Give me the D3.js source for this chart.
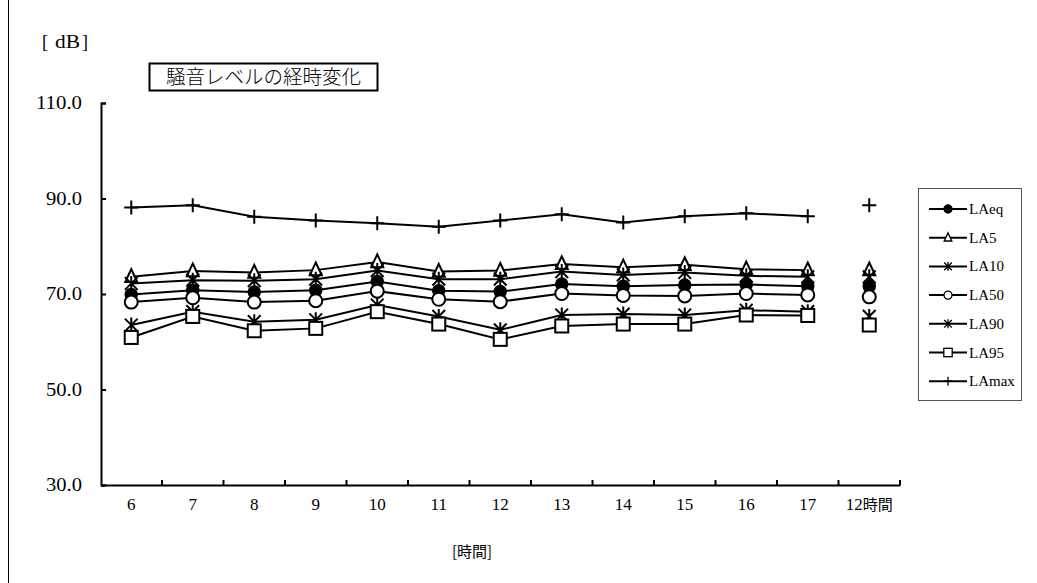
<!DOCTYPE html>
<html><head><meta charset="utf-8">
<script src="https://cdn.jsdelivr.net/npm/d3@7"></script>
<style>body{margin:0;background:#fff}svg{display:block}</style>
</head><body>
<svg id="c" width="1037" height="583"></svg>
<script>
const categories = ["6","7","8","9","10","11","12","13","14","15","16","17","12時間"];
const yTicks = [30, 50, 70, 90, 110];
const LAeq  = [69.9, 70.8, 70.4, 70.8, 72.6, 70.7, 70.5, 72.1, 71.6, 71.9, 72.0, 71.6, 71.6];
const LA5   = [73.6, 74.8, 74.5, 75.0, 76.7, 74.7, 74.9, 76.3, 75.6, 76.1, 75.2, 75.0, 75.0];
const LA10  = [72.2, 72.9, 72.8, 73.1, 74.9, 73.1, 73.1, 74.7, 74.0, 74.5, 73.8, 73.6, 73.6];
const LA50  = [68.3, 69.2, 68.3, 68.6, 70.6, 68.9, 68.4, 70.1, 69.7, 69.6, 70.1, 69.8, 69.4];
const LA90  = [63.5, 66.3, 64.2, 64.6, 67.7, 65.3, 62.5, 65.6, 65.8, 65.6, 66.6, 66.3, 65.3];
const LA95  = [60.9, 65.3, 62.3, 62.8, 66.3, 63.7, 60.5, 63.3, 63.7, 63.7, 65.6, 65.5, 63.5];
const LAmax = [88.1, 88.6, 86.2, 85.4, 84.8, 84.1, 85.4, 86.7, 85.0, 86.3, 86.9, 86.3, 88.6];
const seriesNames = ["LAeq","LA5","LA10","LA50","LA90","LA95","LAmax"];
const seriesMarkers = ["filledCircle","triangle","asterisk","openCircle","asterisk","square","plus"];
const seriesValues = [LAeq, LA5, LA10, LA50, LA90, LA95, LAmax];
const titleText = "騒音レベルの経時変化";
const yUnit = "dB";
const xTitle = "[時間]";

const svg = d3.select("#c");
const serif = "'Liberation Serif','DejaVu Serif',serif";
const jp = "'Noto Sans CJK JP','Noto Sans',sans-serif";

const x = d3.scaleBand().domain(categories).range([100.5, 900]);
const y = d3.scaleLinear().domain([30, 110]).range([485, 103]);

// left frame edge
svg.append("line").attr("x1",8.5).attr("x2",8.5).attr("y1",0).attr("y2",583)
  .attr("stroke","#000").attr("stroke-width",1);

// y axis
const ya = svg.append("g").attr("transform","translate(101,0)")
  .call(d3.axisLeft(y).tickValues(yTicks).tickSize(-5).tickPadding(19).tickFormat(d3.format(".1f")));
ya.select(".domain").attr("stroke","#000").attr("stroke-width",2);
ya.selectAll(".tick line").attr("stroke","#000").attr("stroke-width",2);
ya.selectAll("text").attr("font-family",serif).attr("font-size",18).attr("fill","#000")
  .attr("textLength",46).attr("lengthAdjust","spacingAndGlyphs");
ya.selectAll(".tick text").filter(d => d < 100).attr("textLength",36);

// x axis
const xa = svg.append("g").attr("transform","translate(0,485)")
  .call(d3.axisBottom(x).tickSize(0).tickPadding(16));
xa.select(".domain").attr("stroke","#000").attr("stroke-width",2);
xa.selectAll("text").attr("font-family",serif).attr("font-size",17).attr("fill","#000")
  .attr("dy","0.5em");
xa.selectAll(".tick text").filter(d => /[^\x00-\x7f]/.test(d))
  .each(function(d){
    const t = d3.select(this); t.text(null);
    const m = d.match(/^(\d+)(.*)$/);
    t.append("tspan").text(m[1]);
    t.append("tspan").attr("font-family",jp).attr("font-size",15).text(m[2]);
  });
// boundary ticks (upward)
const bounds = categories.map(c => x(c) + x.bandwidth());
svg.append("g").selectAll("line").data(bounds).join("line")
  .attr("x1",d=>d).attr("x2",d=>d).attr("y1",480).attr("y2",485)
  .attr("stroke","#000").attr("stroke-width",2);

// labels
const u = svg.append("text").attr("y",48).attr("font-size",18).attr("font-family",serif);
u.append("tspan").attr("x",42).text("[");
u.append("tspan").attr("x",55).attr("textLength",25).attr("lengthAdjust","spacingAndGlyphs").text(yUnit);
u.append("tspan").attr("x",82).text("]");
svg.append("text").attr("x",472).attr("y",557).attr("text-anchor","middle")
  .attr("font-family",jp).attr("font-size",15).text(xTitle);

// title box
svg.append("rect").attr("x",149.5).attr("y",63.5).attr("width",228).attr("height",27)
  .attr("fill","#fff").attr("stroke","#000").attr("stroke-width",2);
svg.append("text").attr("x",263.5).attr("y",84).attr("text-anchor","middle")
  .attr("font-family",jp).attr("font-size",19.5).attr("font-weight",300).text(titleText);

// marker drawing
function drawMarker(g, type, s) {
  const sw = 2;
  if (type === "filledCircle") {
    g.append("circle").attr("r",s).attr("fill","#000").attr("stroke","#000").attr("stroke-width",1.5);
  } else if (type === "openCircle") {
    g.append("circle").attr("r",s).attr("fill","#fff").attr("stroke","#000").attr("stroke-width",sw);
  } else if (type === "triangle") {
    const h = s*1.15;
    g.append("path").attr("d",`M0,${-h*1.1}L${s},${h*0.75}L${-s},${h*0.75}Z`)
      .attr("fill","#fff").attr("stroke","#000").attr("stroke-width",sw);
  } else if (type === "square") {
    g.append("rect").attr("x",-s).attr("y",-s).attr("width",2*s).attr("height",2*s)
      .attr("fill","#fff").attr("stroke","#000").attr("stroke-width",sw);
  } else if (type === "asterisk") {
    const d = s*0.85;
    g.append("path").attr("d",`M0,${-s}V${s}M${-d},${-d}L${d},${d}M${d},${-d}L${-d},${d}`)
      .attr("fill","none").attr("stroke","#000").attr("stroke-width",sw);
  } else if (type === "plus") {
    g.append("path").attr("d",`M0,${-s}V${s}M${-s},0H${s}`)
      .attr("fill","none").attr("stroke","#000").attr("stroke-width",sw);
  }
}

const line = d3.line().x(d => x(d.c) + x.bandwidth()/2).y(d => y(d.v));
const plot = svg.append("g");
seriesValues.forEach((vals, i) => {
  const pts = categories.map((c, j) => ({c, v: vals[j]}));
  plot.append("path").datum(pts.slice(0, 12)).attr("d", line)
    .attr("fill","none").attr("stroke","#000").attr("stroke-width",2);
});
seriesValues.forEach((vals, i) => {
  const pts = categories.map((c, j) => ({c, v: vals[j]}));
  const sz = {filledCircle:6, openCircle:6.5, triangle:6, square:6.5, asterisk:7.5, plus:7}[seriesMarkers[i]];
  pts.forEach(p => {
    const g = plot.append("g").attr("transform",`translate(${x(p.c)+x.bandwidth()/2},${y(p.v)})`);
    drawMarker(g, seriesMarkers[i], sz);
  });
});

// legend
const lg = svg.append("g");
lg.append("rect").attr("x",918.5).attr("y",188.5).attr("width",103).attr("height",212)
  .attr("fill","#fff").attr("stroke","#555").attr("stroke-width",1);
seriesNames.forEach((n, i) => {
  const yy = 209 + i*28.7;
  lg.append("line").attr("x1",929).attr("x2",967).attr("y1",yy).attr("y2",yy)
    .attr("stroke","#000").attr("stroke-width",2);
  const g = lg.append("g").attr("transform",`translate(948,${yy})`);
  const sz = {filledCircle:4, openCircle:4, triangle:3.8, square:4.2, asterisk:4.5, plus:4.5}[seriesMarkers[i]];
  drawMarker(g, seriesMarkers[i], sz);
  g.selectAll("*").attr("stroke-width",1.3);
  lg.append("text").attr("x",969).attr("y",yy+5).attr("font-family",serif)
    .attr("font-size",15).text(n);
});
</script>
</body></html>
